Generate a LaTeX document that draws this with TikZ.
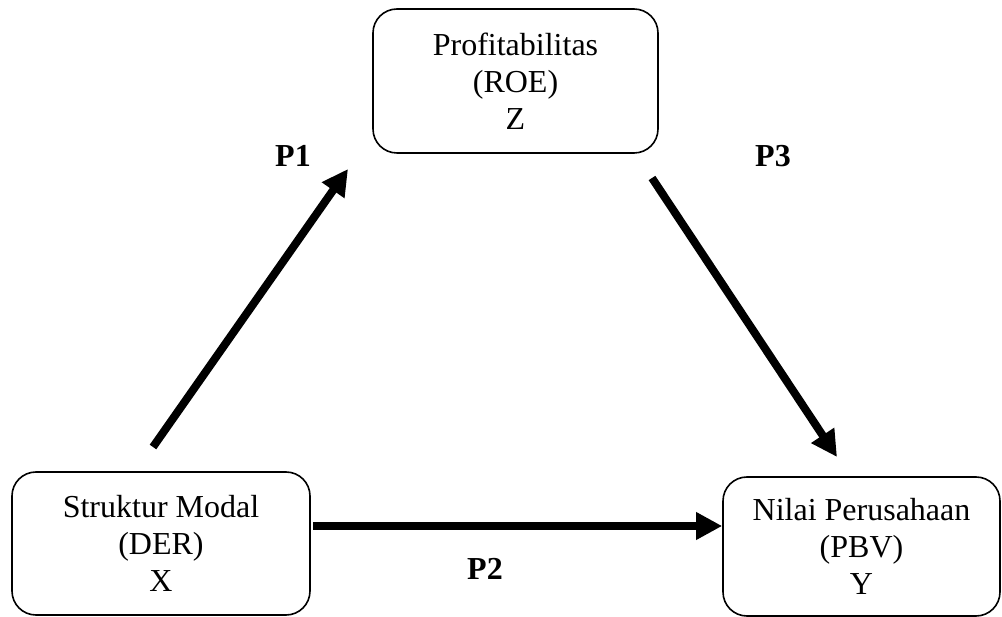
\documentclass[tikz,border=0pt]{standalone}
\usepackage{fontspec}
\setmainfont{Liberation Serif}
\usetikzlibrary{arrows.meta}
\begin{document}
\begin{tikzpicture}[x=1pt,y=-1pt,
  varbox/.style={draw, line width=1.6pt, rounded corners=24pt, align=center,
    font=\fontsize{32}{37}\selectfont, inner sep=0pt},
  plabel/.style={font=\fontsize{32}{36}\selectfont\bfseries, inner sep=0pt},
  bigarrow/.style={line width=8pt, -{Triangle[length=26pt, width=26pt]}}]
\useasboundingbox (0,0) rectangle (1002,617);
\node[varbox, minimum width=285pt, minimum height=144pt] (z) at (515.5,81) {Profitabilitas\\(ROE)\\Z};
\node[varbox, minimum width=298pt, minimum height=143pt] (x) at (161,543.5) {Struktur Modal\\(DER)\\X};
\node[varbox, minimum width=277pt, minimum height=139pt] (y) at (861.5,546.5) {Nilai Perusahaan\\(PBV)\\Y};
\node[plabel] (p1) at (293,156) {P1};
\node[plabel] (p3) at (773,156) {P3};
\node[plabel] (p2) at (485,569) {P2};
\coordinate (a1s) at (153,447);
\coordinate (a1e) at (348,169);
\coordinate (a3s) at (652,178);
\coordinate (a3e) at (837,457);
\coordinate (a2s) at (313,526);
\coordinate (a2e) at (y.west |- a2s);
\draw[bigarrow] (a1s) -- (a1e);
\draw[bigarrow] (a3s) -- (a3e);
\draw[bigarrow] (a2s) -- (a2e);
\end{tikzpicture}
\end{document}
